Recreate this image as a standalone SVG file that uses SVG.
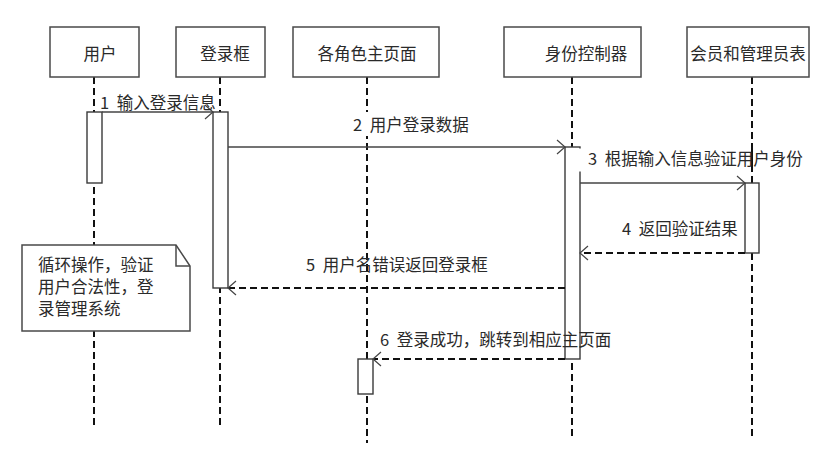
<svg xmlns="http://www.w3.org/2000/svg" width="823" height="459" viewBox="0 0 823 459">
<style>
.box{fill:#fff;stroke:#4a4a4a;stroke-width:1.5}
.life{stroke:#111;stroke-width:2;stroke-dasharray:7 4;fill:none}
.bar{fill:#fff;stroke:#3a3a3a;stroke-width:1.4}
.msg{stroke:#444;stroke-width:1.4;fill:none}
.ret{stroke:#111;stroke-width:2;stroke-dasharray:7 4;fill:none}
.head{stroke:#444;stroke-width:1.2;fill:none}
text{font-family:"Noto Sans CJK SC","Liberation Sans",sans-serif;font-size:16.5px;fill:#2a2a2a}
</style>
<rect width="823" height="459" fill="#fff"/>
<g id="lifelines">
<line class="life" x1="94" y1="77" x2="94" y2="427"/>
<line class="life" x1="220" y1="77" x2="220" y2="427"/>
<line class="life" x1="367" y1="77" x2="367" y2="443"/>
<line class="life" x1="572" y1="77" x2="572" y2="438"/>
<line class="life" x1="752" y1="77" x2="752" y2="438"/>
</g>
<g id="node-user"><rect class="box" x="50" y="27" width="89" height="50"/><text x="100" y="60" text-anchor="middle">用户</text></g>
<g id="node-login"><rect class="box" x="176" y="27" width="89" height="50"/><text x="225" y="60" text-anchor="middle">登录框</text></g>
<g id="node-home"><rect class="box" x="293" y="27" width="146" height="50"/><text x="367" y="60" text-anchor="middle">各角色主页面</text></g>
<g id="node-ctrl"><rect class="box" x="504" y="27" width="137" height="50"/><text x="586" y="60" text-anchor="middle">身份控制器</text></g>
<g id="node-table"><rect class="box" x="687" y="27" width="122" height="50"/><text x="748" y="60" text-anchor="middle">会员和管理员表</text></g>
<g id="activations">
<rect class="bar" x="87" y="112" width="15" height="71"/>
<rect class="bar" x="213" y="112" width="15" height="176"/>
<rect class="bar" x="565" y="147" width="15" height="212"/>
<rect class="bar" x="745" y="183" width="14" height="70"/>
<rect class="bar" x="358" y="359" width="15" height="35"/>
</g>
<g id="connectors">
<line class="msg" x1="102" y1="112" x2="213" y2="112"/>
<path class="head" d="M205,105 L213,112 L205,119"/>
<rect x="343" y="112" width="128" height="24" fill="#fff"/>
<line class="msg" x1="228" y1="147" x2="565" y2="147"/>
<path class="head" d="M557,140 L565,147 L557,154"/>
<rect x="579" y="148.5" width="165" height="23" fill="#fff"/>
<line class="life" x1="752" y1="148" x2="752" y2="172"/>
<line class="msg" x1="580" y1="183" x2="745" y2="183"/>
<path class="head" d="M737,176 L745,183 L737,190"/>
<line class="ret" x1="745" y1="253" x2="581" y2="253"/>
<path class="head" d="M588,246 L580,253 L588,260"/>
<line class="ret" x1="565" y1="288" x2="229" y2="288"/>
<path class="head" d="M236,281 L228,288 L236,295"/>
<line class="ret" x1="565" y1="359" x2="374" y2="359"/>
<path class="head" d="M381,352 L373,359 L381,366"/>
</g>
<g id="labels">
<text x="100" y="109">1 <tspan dx="4">输入登录信息</tspan></text>
<text x="353" y="131">2 <tspan dx="4">用户登录数据</tspan></text>
<text x="588" y="165">3 <tspan dx="4">根据输入信息验证用户身份</tspan></text>
<text x="622" y="235">4 <tspan dx="4">返回验证结果</tspan></text>
<text x="306" y="271">5 <tspan dx="4">用户名错误返回登录框</tspan></text>
<text x="380" y="346">6 <tspan dx="4">登录成功，跳转到相应主页面</tspan></text>
</g>
<g id="note">
<path class="box" d="M22,245 H176 L190,266 V331 H22 Z"/>
<path class="head" d="M176,245 V266 H190" style="stroke:#4a4a4a;stroke-width:1.5"/>
<text x="38" y="271">循环操作，验证</text>
<text x="38" y="293">用户合法性，登</text>
<text x="38" y="315">录管理系统</text>
</g>
</svg>
